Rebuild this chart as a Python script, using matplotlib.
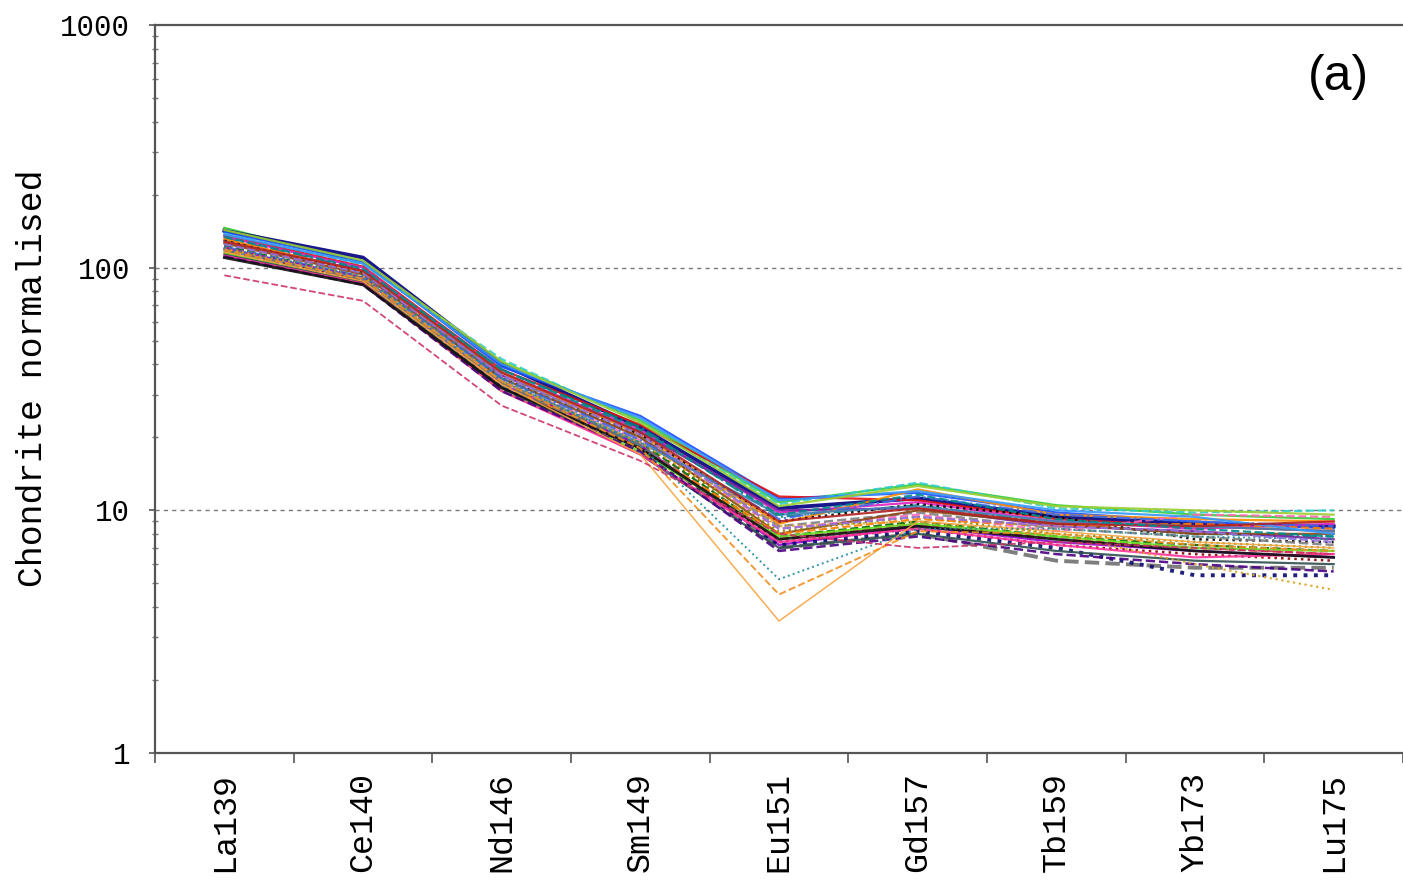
import matplotlib

matplotlib.use("Agg")

import matplotlib.pyplot as plt
from matplotlib.ticker import FixedLocator, LogLocator, NullFormatter

ELEMENTS = ["La139", "Ce140", "Nd146", "Sm149", "Eu151", "Gd157", "Tb159", "Yb173", "Lu175"]

# chondrite normalised values, one row per analysis (La ... Lu)
SAMPLES = [
    [146, 104, 41, 23.5, 10.8, 12.8, 10.5, 9.6, 9.2],
    [142, 110, 40, 22.0, 10.2, 11.2, 9.4, 8.8, 8.6],
    [140, 106, 39, 24.5, 11.2, 11.8, 9.8, 9.0, 8.4],
    [138, 103, 42, 23.0, 10.6, 13.0, 10.2, 9.8, 10.0],
    [136, 101, 38, 22.5, 11.4, 11.0, 9.2, 8.6, 8.2],
    [134, 100, 37, 21.5, 9.8, 10.8, 9.0, 8.4, 8.8],
    [132, 98, 38, 22.0, 9.4, 10.5, 8.8, 8.0, 7.8],
    [130, 97, 36, 21.0, 10.0, 10.2, 8.6, 8.2, 7.6],
    [131, 96, 37, 20.5, 8.8, 12.2, 9.6, 9.2, 9.0],
    [129, 95, 35, 20.5, 9.0, 10.6, 9.4, 7.6, 7.4],
    [128, 94, 36, 20.0, 8.6, 9.8, 8.4, 7.8, 7.2],
    [127, 93, 34, 19.5, 8.4, 9.6, 8.2, 9.6, 9.4],
    [126, 94, 35, 20.0, 8.0, 10.0, 8.8, 8.0, 8.0],
    [124, 92, 34, 19.0, 8.2, 9.4, 8.0, 7.4, 7.0],
    [123, 91, 33, 19.0, 7.8, 9.0, 7.8, 7.2, 6.8],
    [122, 92, 35, 19.5, 9.2, 11.4, 9.6, 9.0, 8.6],
    [121, 90, 34, 18.5, 7.6, 8.8, 7.6, 7.0, 6.6],
    [120, 91, 33, 18.5, 7.2, 8.6, 7.4, 6.8, 6.4],
    [119, 89, 33, 18.0, 8.0, 9.2, 8.6, 8.8, 8.4],
    [118, 90, 34, 19.0, 9.6, 10.4, 9.0, 8.6, 8.2],
    [117, 88, 32, 18.0, 7.4, 8.4, 7.2, 6.6, 6.2],
    [116, 89, 33, 18.5, 7.0, 8.0, 6.2, 5.8, 5.8],
    [114, 87, 32, 17.5, 7.2, 8.2, 7.0, 5.4, 5.4],
    [115, 86, 31, 17.5, 7.8, 8.8, 7.8, 7.0, 6.8],
    [113, 87, 32, 17.0, 7.0, 8.0, 6.8, 6.2, 6.0],
    [112, 86, 31, 17.0, 7.4, 8.4, 7.2, 6.4, 6.6],
    [111, 85, 31, 17.5, 6.8, 7.8, 6.6, 6.0, 5.6],
    [120, 92, 34, 19.0, 8.6, 9.0, 8.0, 6.0, 4.7],
    [110, 85, 32, 18.0, 7.6, 8.6, 7.6, 6.8, 6.4],
    [116, 88, 33, 17.0, 3.5, 9.0, 8.2, 7.4, 7.0],
    [118, 90, 34, 18.0, 4.5, 8.2, 8.0, 7.2, 6.8],
    [121, 92, 35, 18.5, 5.2, 8.4, 8.4, 7.8, 7.6],
    [93, 73, 27, 16.0, 8.0, 7.0, 7.4, 7.0, 6.6],
    [137, 104, 40, 24.0, 11.0, 12.0, 10.0, 9.4, 8.0],
    [143, 107, 41, 23.0, 10.4, 12.6, 10.4, 10.0, 9.6],
    [125, 95, 36, 20.5, 8.4, 9.4, 8.6, 8.2, 7.4],
    [128, 97, 37, 21.0, 9.0, 10.2, 8.8, 8.6, 9.0],
    [134, 99, 38, 21.5, 9.6, 11.6, 9.2, 8.4, 7.8],
]

COLORS = [
    "#33cc33", "#000080", "#1f4fff", "#33cccc", "#e01010", "#e020c0",
    "#008080", "#7a1fa2", "#ff8c00", "#000000", "#808080", "#ff69b4",
    "#8b4513", "#808000", "#006400", "#4169e1", "#dc143c", "#9400d3",
    "#ff7f00", "#4682b4", "#8b0000", "#707070", "#0a0a70", "#66dd22",
    "#2f4f4f", "#ff3399", "#4b0082", "#daa520", "#111111", "#f7a440",
    "#f09020", "#1a8a9a", "#cc3366", "#3399ff", "#9acd32", "#9370db",
    "#b22222", "#008b8b",
]

STYLES = [
    "-", "-", "-", "--", "-", "-", "-.", "-", "-", ":", "--", "--",
    "-", ":", "--", "-.", "--", "-", "--", "-", ":", "--", ":", "-",
    "-", "-", "--", ":", "-", "-", "--", ":", "--", "-", "-", "--",
    "-", "--",
]

WIDTHS = [
    1.6, 2.8, 1.6, 1.6, 1.6, 1.6, 1.6, 1.6, 1.6, 1.8, 1.8, 1.6,
    1.6, 1.6, 1.6, 1.6, 1.6, 1.6, 1.6, 1.6, 1.8, 2.8, 2.8, 1.6,
    1.6, 1.6, 1.8, 1.6, 2.0, 1.1, 1.4, 1.4, 1.3, 1.6, 1.6, 1.6,
    1.6, 1.6,
]


def main() -> None:
    plt.rcParams.update({"font.family": "Liberation Mono"})
    fig = plt.figure(figsize=(14.03, 8.84), dpi=100)
    ax = fig.add_axes([0.1105, 0.1482, 0.8895, 0.8235])

    xs = [i + 0.5 for i in range(len(ELEMENTS))]
    for row, c, ls, lw in zip(SAMPLES, COLORS, STYLES, WIDTHS):
        ax.plot(xs, row, color=c, linestyle=ls, linewidth=lw, alpha=0.9)

    ax.set_yscale("log")
    ax.set_ylim(1, 1000)
    ax.set_xlim(0, len(ELEMENTS))

    for v in (10, 100):
        ax.axhline(v, color="#777777", linestyle=(0, (3, 3)), linewidth=1.0, zorder=0)

    ax.xaxis.set_major_locator(FixedLocator(range(len(ELEMENTS) + 1)))
    ax.xaxis.set_major_formatter(NullFormatter())
    ax.xaxis.set_minor_locator(FixedLocator(xs))
    ax.set_xticklabels(ELEMENTS, minor=True, rotation=90, fontsize=24)
    ax.tick_params(axis="x", which="major", direction="out", length=7, width=1.2, color="#555555")
    ax.tick_params(axis="x", which="minor", length=0, pad=14)

    ax.yaxis.set_major_locator(FixedLocator([1, 10, 100, 1000]))
    ax.set_yticklabels(["1", "10", "100", "1000"], fontsize=21)
    ax.yaxis.set_minor_locator(LogLocator(base=10, subs=range(2, 10)))
    ax.yaxis.set_minor_formatter(NullFormatter())
    ax.tick_params(axis="y", which="major", direction="out", length=4, width=1.2, color="#555555", pad=14)
    ax.tick_params(axis="y", which="minor", direction="inout", length=5, width=1.0, color="#777777")

    ax.set_ylabel("Chondrite normalised", fontsize=25)
    ax.yaxis.set_label_coords(-0.085, 0.515)

    for side in ("left", "bottom", "top"):
        ax.spines[side].set_color("#555555")
        ax.spines[side].set_linewidth(1.6)
    ax.spines["right"].set_visible(False)

    ax.text(0.948, 0.929, "(a)", transform=ax.transAxes, fontsize=36,
            family="Liberation Sans", ha="center", va="center")

    fig.savefig("out.png", dpi=100)


if __name__ == "__main__":
    main()
